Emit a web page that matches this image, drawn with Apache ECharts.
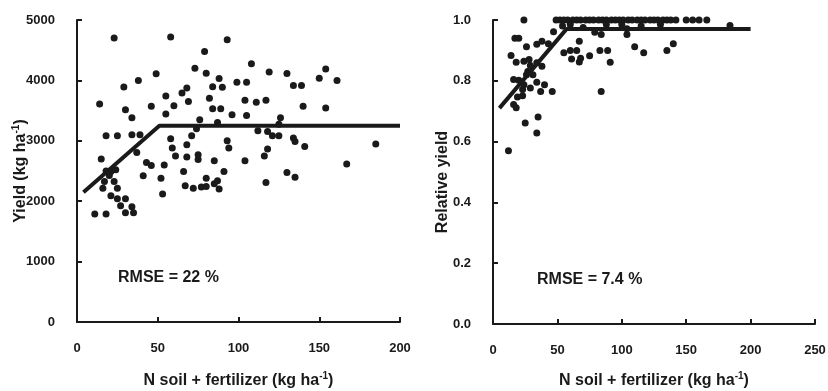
<!DOCTYPE html>
<html>
<head>
<meta charset="utf-8">
<script src="https://cdn.jsdelivr.net/npm/echarts@6/dist/echarts.min.js"></script>
<style>html,body{margin:0;padding:0;background:#fff}#c{width:828px;height:391px}</style>
</head>
<body>
<div id="c"></div>
<script>
// Left panel: yield vs N (soil + fertilizer)
const yieldN = [23,58,79,73,80,49,38,29,68,65,55,69,14,46,60,30,55,34,76,18,25,34,39,58,68,59,71,74,37,61,68,75,75,15,43,46,54,18,21,24,66,20,41,52,17,16,23,25,67,72,77,80,53,21,25,30,27,34,35,30,11,18,
  93,108,119,130,154,150,161,88,84,90,99,105,134,139,82,104,111,117,84,89,140,154,96,105,126,87,125,112,118,121,125,134,135,141,93,94,185,118,116,85,104,167,91,130,135,80,85,87,88,117];
const yieldVal = [4700,4720,4480,4200,4120,4110,4000,3890,3875,3790,3740,3650,3610,3570,3580,3515,3445,3380,3350,3085,3085,3100,3100,3035,2935,2880,3085,3200,2805,2750,2730,2770,2690,2700,2640,2590,2600,2500,2490,2520,2490,2425,2420,2380,2325,2215,2325,2215,2255,2215,2235,2380,2120,2090,2040,2040,1925,1910,1810,1810,1790,1790,
  4675,4275,4140,4115,4190,4035,4000,4030,3895,3885,3970,3970,3915,3915,3705,3670,3640,3670,3530,3530,3570,3545,3430,3420,3380,3305,3275,3165,3155,3085,3085,3045,2990,2905,3000,2880,2945,2865,2750,2670,2670,2615,2490,2475,2395,2245,2290,2340,2200,2310];
const yieldFitN = [4, 51, 200];
const yieldFitVal = [2150, 3250, 3250];

// Right panel: relative yield vs N
const relN = [24,49,52,55,58,62,65,68,72,75,78,82,85,88,92,95,98,101,105,108,112,115,118,122,125,128,132,135,138,142,150,155,160,166,
  54,60,70,88,100,115,130,184,47,79,84,104,104,
  17,20,26,34,38,43,67,
  55,60,65,61,67,68,75,83,89,91,110,117,135,140,
  14,18,24,28,34,38,29,27,31,26,16,20,24,29,23,34,40,37,46,84,19,23,16,18,35,25,34,12];
const relVal = [1,1,1,1,1,1,1,1,1,1,1,1,1,1,1,1,1,1,1,1,1,1,1,1,1,1,1,1,1,1,1,1,1,1,
  0.98,0.985,0.975,0.985,0.985,0.98,0.985,0.982,0.961,0.96,0.952,0.952,0.971,
  0.94,0.94,0.912,0.92,0.93,0.922,0.93,
  0.892,0.9,0.9,0.872,0.862,0.874,0.882,0.9,0.9,0.861,0.912,0.892,0.9,0.922,
  0.883,0.861,0.864,0.87,0.859,0.848,0.85,0.831,0.82,0.82,0.804,0.802,0.787,0.776,0.771,0.795,0.787,0.765,0.765,0.765,0.747,0.751,0.722,0.711,0.681,0.661,0.628,0.57];
const relFitN = [5, 57, 200];
const relFitVal = [0.71, 0.97, 0.97];

const xTicksLeft = {min: 0, max: 200, interval: 50};
const xTicksRight = {min: 0, max: 250, interval: 50};
const yTicksLeft = {min: 0, max: 5000, interval: 1000};
const yTicksRight = {min: 0, max: 1, interval: 0.2};

const xName = 'N soil + fertilizer (kg ha{sup|-1})';
const yNameLeft = 'Yield (kg ha{sup|-1})';
const yNameRight = 'Relative yield';
const rmseLeft = 'RMSE = 22 %';
const rmseRight = 'RMSE = 7.4 %';

const zip = (a, b) => a.map((v, i) => [v, b[i]]);
const FONT = "'Liberation Sans', Arial, sans-serif";
const ink = '#1a1a1a';

function nameStyle(size, pad) {
  return {
    color: ink, fontFamily: FONT, fontWeight: 'bold', fontSize: size, lineHeight: size + 4,
    padding: pad || 0,
    rich: { sup: { color: ink, fontFamily: FONT, fontWeight: 'bold', fontSize: Math.round(size * 0.6), verticalAlign: 'top', lineHeight: size + 4, padding: [0, 0, 8, 0] } }
  };
}
function axisCommon(margin, fmt) {
  return {
    type: 'value',
    nameMoveOverlap: false,
    axisLine: { show: true, onZero: false, lineStyle: { color: ink, width: 2 } },
    axisTick: { show: true, inside: true, length: 5, lineStyle: { color: ink, width: 2 } },
    splitLine: { show: false },
    axisLabel: { color: ink, fontFamily: FONT, fontWeight: 'bold', fontSize: 13, margin: margin, showMinLabel: true, showMaxLabel: true,
      formatter: fmt || (v => String(v)) },
  };
}

const chart = echarts.init(document.getElementById('c'), null, { renderer: 'canvas' });
chart.setOption({
  animation: false,
  backgroundColor: '#fff',
  grid: [
    { left: 77, top: 20, width: 323, height: 302, outerBoundsMode: 'none', containLabel: false },
    { left: 493, top: 20, width: 322, height: 304, outerBoundsMode: 'none', containLabel: false }
  ],
  xAxis: [
    Object.assign(axisCommon(20), xTicksLeft, { gridIndex: 0, name: xName, nameLocation: 'middle', nameGap: 49, nameTextStyle: nameStyle(16) }),
    Object.assign(axisCommon(20), xTicksRight, { gridIndex: 1, name: xName, nameLocation: 'middle', nameGap: 47, nameTextStyle: nameStyle(16) })
  ],
  yAxis: [
    Object.assign(axisCommon(22), yTicksLeft, { gridIndex: 0, name: yNameLeft, nameLocation: 'middle', nameGap: 46, nameTextStyle: nameStyle(16) }),
    Object.assign(axisCommon(22, v => v.toFixed(1)), yTicksRight, { gridIndex: 1, name: yNameRight, nameLocation: 'middle', nameGap: 40, nameTextStyle: nameStyle(16, [0, 20, 0, 0]) })
  ],
  series: [
    { type: 'scatter', xAxisIndex: 0, yAxisIndex: 0, data: zip(yieldN, yieldVal), symbolSize: 7, itemStyle: { color: ink, opacity: 1 } },
    { type: 'line', xAxisIndex: 0, yAxisIndex: 0, data: zip(yieldFitN, yieldFitVal), symbol: 'none', lineStyle: { color: ink, width: 4 } },
    { type: 'scatter', xAxisIndex: 1, yAxisIndex: 1, data: zip(relN, relVal), symbolSize: 7, itemStyle: { color: ink, opacity: 1 } },
    { type: 'line', xAxisIndex: 1, yAxisIndex: 1, data: zip(relFitN, relFitVal), symbol: 'none', lineStyle: { color: ink, width: 4 } }
  ],
  graphic: [
    { type: 'text', left: 118, top: 270, style: { text: rmseLeft, fill: ink, font: "bold 16px " + FONT } },
    { type: 'text', left: 537, top: 272, style: { text: rmseRight, fill: ink, font: "bold 16px " + FONT } }
  ]
});
</script>
</body>
</html>
